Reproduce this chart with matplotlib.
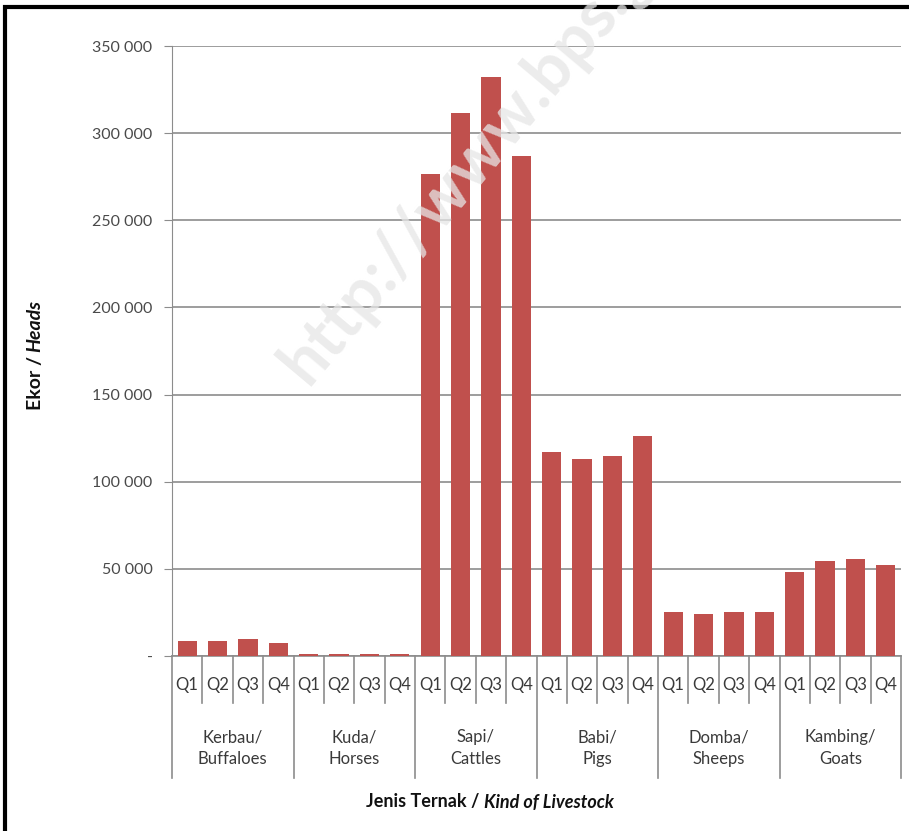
import matplotlib
matplotlib.use("Agg")
import matplotlib.pyplot as plt
import matplotlib.ticker as mticker
from matplotlib.patches import Rectangle

plt.rcParams["font.family"] = ["Lato", "DejaVu Sans"]

# ── Data ─────────────────────────────────────────────────────────────────
categories = ["Kerbau/\nBuffaloes", "Kuda/\nHorses", "Sapi/\nCattles",
              "Babi/\nPigs", "Domba/\nSheeps", "Kambing/\nGoats"]
quarters = ["Q1", "Q2", "Q3", "Q4"]
values = [
    [8600, 8700, 9600, 7600],          # Kerbau
    [1000, 900, 900, 1000],            # Kuda
    [276500, 311400, 332000, 287000],  # Sapi
    [117200, 113100, 115000, 126300],  # Babi
    [25200, 24000, 25200, 25000],      # Domba
    [48300, 54600, 55500, 52500],      # Kambing
]
y_ticks = [0, 50000, 100000, 150000, 200000, 250000, 300000, 350000]

BAR_COLOUR = "#C0504D"
GRID_COLOUR = "#8c8c8c"
TEXT_COLOUR = "#3a3a3a"

fig = plt.figure(figsize=(9.09, 8.31), dpi=100)
ax = fig.add_axes([172 / 909, 1 - 656 / 831, (901 - 172) / 909, (656 - 46) / 831])

flat = [v for grp in values for v in grp]
xs = list(range(len(flat)))
ax.bar(xs, flat, width=0.63, color=BAR_COLOUR, zorder=3)

ax.set_xlim(-0.5, len(flat) - 0.5)
ax.set_ylim(0, 350000)
ax.set_yticks(y_ticks)
ax.yaxis.set_major_formatter(mticker.FuncFormatter(
    lambda v, p: "-" if v == 0 else f"{int(v):,}".replace(",", " ")))
ax.tick_params(axis="y", labelsize=11.5, labelcolor="#4a4a4a", color=GRID_COLOUR,
               length=6, pad=8)
ax.set_xticks([])
ax.grid(axis="y", color=GRID_COLOUR, linewidth=1.2, zorder=0)
for side in ["top", "right"]:
    ax.spines[side].set_visible(False)
ax.spines["left"].set_color(GRID_COLOUR)
ax.spines["bottom"].set_color(GRID_COLOUR)
ax.spines["bottom"].set_linewidth(1.2)

# ── Multi-level x axis ──────────────────────────────────────────────────
trans = ax.get_xaxis_transform()
short_y = -(703 - 656) / 610
long_y = -(778 - 656) / 610
for i in range(len(flat) + 1):
    edge = i - 0.5
    bottom = long_y if i % len(quarters) == 0 else short_y
    ax.plot([edge, edge], [0, bottom], transform=trans, color=GRID_COLOUR,
            linewidth=1.2, clip_on=False)
for i, x in enumerate(xs):
    ax.text(x, -(685 - 656) / 610, quarters[i % len(quarters)], transform=trans,
            ha="center", va="center", fontsize=12, color=TEXT_COLOUR)
for g, name in enumerate(categories):
    cx = g * len(quarters) + (len(quarters) - 1) / 2
    ax.text(cx, -(748 - 656) / 610, name, transform=trans, ha="center", va="center",
            fontsize=12, color=TEXT_COLOUR, linespacing=1.45)

# ── Axis titles (bold + bold italic parts) ───────────────────────────────
fig.canvas.draw()
renderer = fig.canvas.get_renderer()

part1 = fig.text(0, 1 - 802 / 831, "Jenis Ternak / ", ha="left", va="center",
                 fontsize=13, fontweight="bold", color="#111111")
part2 = fig.text(0, 1 - 802 / 831, "Kind of Livestock", ha="left", va="center",
                 fontsize=13, fontweight="bold", fontstyle="italic", color="#111111")
w1 = part1.get_window_extent(renderer).width
w2 = part2.get_window_extent(renderer).width
start = 490 - (w1 + w2) / 2
part1.set_x(start / 909)
part2.set_x((start + w1) / 909)

ylab1 = fig.text(35 / 909, 0, "Ekor / ", rotation=90, ha="center", va="bottom",
                 fontsize=14, fontweight="bold", color="#111111")
ylab2 = fig.text(35 / 909, 0, "Heads", rotation=90, ha="center", va="bottom",
                 fontsize=14, fontweight="bold", fontstyle="italic", color="#111111")
h1 = ylab1.get_window_extent(renderer).height
h2 = ylab2.get_window_extent(renderer).height
ystart = (831 - 355) - (h1 + h2) / 2
ylab1.set_y(ystart / 831)
ylab2.set_y((ystart + h1) / 831)

# ── Watermark ────────────────────────────────────────────────────────────
fig.text(318 / 909, 1 - 395 / 831, "http://www.bps.go.id", rotation=50,
         rotation_mode="anchor", ha="left", va="bottom", fontsize=48,
         fontweight="bold", color="#e6e6e6", alpha=0.75, zorder=10)

# ── Frame ────────────────────────────────────────────────────────────────
fig.patches.append(Rectangle((5 / 909, -0.05), 1.2, 1 - 7 / 831 + 0.05,
                             transform=fig.transFigure, fill=False,
                             edgecolor="black", linewidth=3))

fig.savefig("out.png", dpi=100, facecolor="white")
